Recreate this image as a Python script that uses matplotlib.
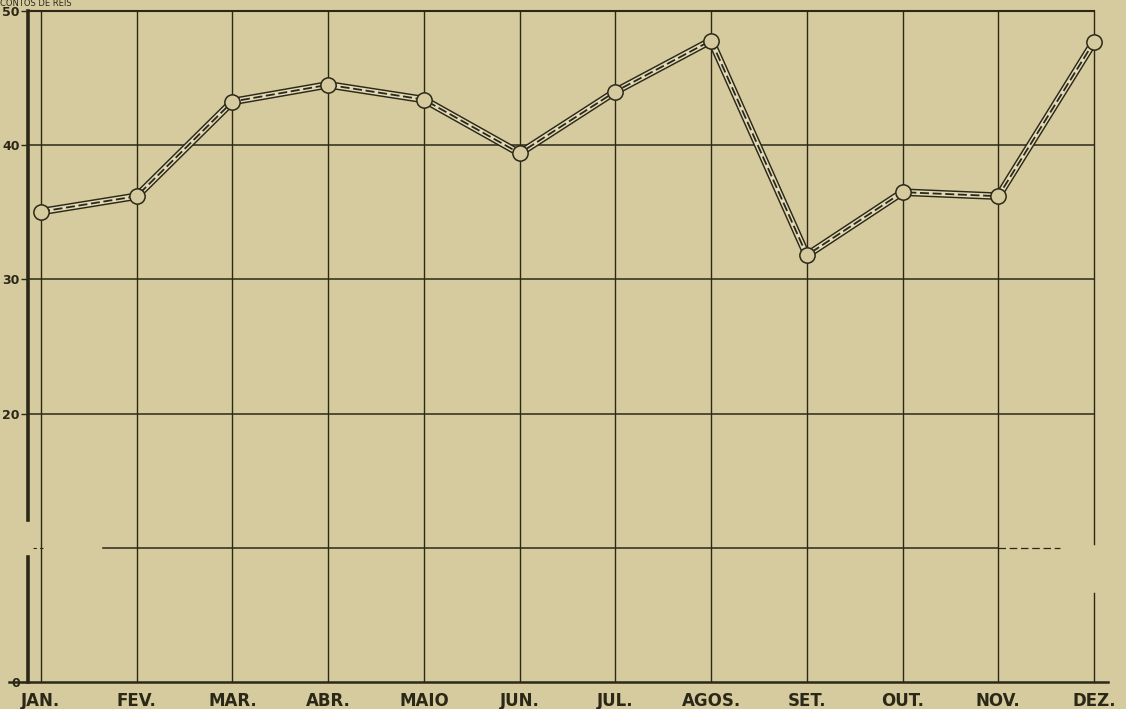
import matplotlib.pyplot as plt

months = ['JAN.', 'FEV.', 'MAR.', 'ABR.', 'MAIO', 'JUN.', 'JUL.', 'AGOS.', 'SET.', 'OUT.', 'NOV.', 'DEZ.']
valores = [35.05, 36.2, 43.25, 44.5, 43.4, 39.4, 44.0, 47.8, 31.8, 36.5, 36.2, 47.7]
y_ticks = [0, 20, 30, 40, 50]

paper = '#d6cb9e'
ink = '#2b2818'

fig = plt.figure(figsize=(11.26, 7.09), dpi=100, facecolor=paper)
ax = fig.add_axes([28 / 1126, 1 - 682 / 709, (1094 - 28) / 1126, (682 - 11) / 709])
ax.set_facecolor(paper)
x = list(range(len(months)))
ax.set_xlim(-0.136, 11)
ax.set_ylim(0, 50)
for s in ax.spines.values():
    s.set_visible(False)

# grid: vertical month lines and horizontal lines every 10
for i in x[:-1]:
    ax.plot([i, i], [0, 50], color=ink, lw=1.0, zorder=1)
ax.plot([11, 11], [6.6, 0], color=ink, lw=1.0, zorder=1, clip_on=False)
ax.plot([11, 11], [50, 10.3], color=ink, lw=1.0, zorder=1, clip_on=False)
for v in [20, 30, 40]:
    ax.plot([-0.136, 11], [v, v], color=ink, lw=1.1, zorder=1)
ax.plot([0.65, 10.0], [10, 10], color=ink, lw=1.1, zorder=1)
ax.plot([10.0, 10.65], [10, 10], color=ink, lw=0.9, ls=(0, (6, 3)), zorder=1)
ax.plot([-0.08, 0.05], [10, 10], color=ink, lw=0.8, ls=(0, (3, 3)), zorder=1)

# frame: top line, heavy left axis, base line
ax.plot([-0.136, 11], [50, 50], color=ink, lw=1.5, zorder=2, clip_on=False)
ax.plot([-0.136, -0.136], [0, 9.3], color=ink, lw=2.6, zorder=2, clip_on=False)
ax.plot([-0.136, -0.136], [12.1, 50], color=ink, lw=2.6, zorder=2, clip_on=False)
ax.plot([-0.33, 11.15], [0, 0], color=ink, lw=1.8, zorder=2, clip_on=False)

# double-ruled curve with dashed centre
ax.plot(x, valores, color=ink, lw=5.5, zorder=3, solid_joinstyle='miter', clip_on=False)
ax.plot(x, valores, color='#e2d9b6', lw=3.4, zorder=4, solid_joinstyle='miter', clip_on=False)
ax.plot(x, valores, color=ink, lw=1.3, ls=(0, (5, 2)), zorder=5, clip_on=False)
ax.plot(x, valores, ls='none', marker='o', ms=11, mfc=paper, mec=ink, mew=1.1,
        zorder=6, clip_on=False)

# axis labels
ax.set_xticks(x)
ax.set_xticklabels(months, fontsize=12, fontweight='bold', color=ink)
ax.tick_params(axis='x', length=0, pad=7)
ax.set_yticks(y_ticks)
ax.set_yticklabels([str(t) for t in y_ticks], fontsize=9, fontweight='bold', color=ink)
ax.tick_params(axis='y', length=5, width=1, color=ink, pad=1, direction='out')

fig.text(0.0, 1 - 5.5 / 709, 'CONTOS DE REIS', fontsize=6, color=ink, va='baseline')

fig.savefig('out.png', dpi=100, facecolor=paper)
